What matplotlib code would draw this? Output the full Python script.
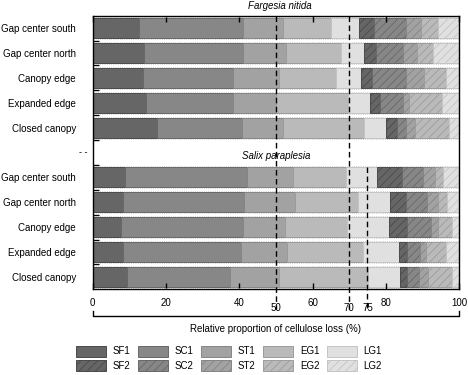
import numpy as np
import matplotlib
matplotlib.use('Agg')
import matplotlib.pyplot as plt
from matplotlib.patches import Patch

plt.rcParams['font.family'] = ['Liberation Sans', 'DejaVu Sans']
plt.rcParams['font.size'] = 7
plt.rcParams['hatch.linewidth'] = 0.6

# data (relative proportion of cellulose loss, %)
sites = ['Gap center south', 'Gap center north', 'Canopy edge', 'Expanded edge', 'Closed canopy']
fractions = ['SF1', 'SC1', 'ST1', 'EG1', 'LG1', 'SF2', 'SC2', 'ST2', 'EG2', 'LG2']
fargesia = [
    [12.7, 28.3, 10.9, 13.1, 7.8, 4.1, 8.5, 4.1, 4.8, 5.7],
    [14.1, 26.9, 11.8, 14.9, 6.4, 3.2, 7.5, 3.6, 4.4, 7.2],
    [13.6, 24.8, 12.4, 15.5, 6.8, 3.2, 9.1, 5.1, 5.9, 3.6],
    [14.5, 23.7, 11.8, 19.8, 5.9, 2.6, 6.5, 1.6, 9.0, 4.6],
    [17.6, 23.1, 11.3, 22.1, 6.0, 2.9, 2.4, 2.6, 9.2, 2.8],
]
salix = [
    [8.7, 33.3, 12.6, 14.6, 8.5, 6.7, 5.7, 3.3, 2.1, 4.5],
    [8.4, 33.0, 13.8, 17.1, 8.9, 4.2, 5.8, 3.1, 2.3, 3.4],
    [7.7, 33.4, 11.3, 16.9, 11.7, 4.7, 6.6, 1.9, 3.8, 2.0],
    [8.4, 32.0, 12.7, 20.6, 9.9, 2.3, 3.5, 1.5, 5.5, 3.6],
    [9.5, 28.0, 13.4, 24.2, 8.8, 1.8, 3.4, 2.3, 6.6, 2.0],
]
ref_lines_top = [50, 70]
ref_lines_bottom = [50, 70, 75]

fills = ['#666666', '#878787', '#a2a2a2', '#bababa', '#e0e0e0']
edges = ['#4a4a4a', '#686868', '#858585', '#9c9c9c', '#c4c4c4']

fig = plt.figure(figsize=(4.68, 3.75), dpi=100)
ax = fig.add_axes([0.198, 0.2285, 0.783, 0.7296])

for data, y0 in [(fargesia, 0), (salix, 6)]:
    for i, vals in enumerate(data):
        left = 0
        for j, v in enumerate(vals):
            ax.barh(y0 + i, v, left=left, height=0.8, color=fills[j % 5],
                    edgecolor=edges[j % 5], linewidth=0.7,
                    hatch='////' if j >= 5 else None)
            left += v
        # faint dotted outlines between bars
        for yy in (y0 + i - 0.44, y0 + i + 0.44):
            ax.plot([0, 100], [yy, yy], color='#c0c0c0', lw=0.6, ls=':')

ax.set_xlim(0, 100)
ax.set_ylim(10.5, -0.5)

# y ticks at row boundaries, labels at row centres
ax.set_yticks(np.arange(0.5, 10, 1))
ax.set_yticklabels([])
label_rows = [0, 1, 2, 3, 4, 6, 7, 8, 9, 10]
ax.set_yticks(label_rows, minor=True)
ax.set_yticklabels(sites + sites, minor=True)
ax.tick_params(axis='y', which='minor', length=0, pad=12)
ax.tick_params(axis='y', which='major', direction='in', length=4, width=1)
ax.set_xticks([0, 20, 40, 60, 80, 100])
ax.tick_params(axis='x', direction='in', top=True, length=4, width=1, pad=6)
for s in ax.spines.values():
    s.set_linewidth(1)

# dashed reference lines
for v in ref_lines_top:
    ax.plot([v, v], [-0.5, 11.3], color='k', lw=1, dashes=(4, 2.5), clip_on=False)
for v in ref_lines_bottom:
    if v not in ref_lines_top:
        ax.plot([v, v], [5.6, 11.3], color='k', lw=1, dashes=(4, 2.5), clip_on=False)

trans = ax.get_xaxis_transform()
for v in ref_lines_bottom:
    ax.text(v, -0.068, str(v), transform=trans, ha='center', va='center')
ax.plot([0, 0, 100, 100], [-0.081, -0.0976, -0.0976, -0.081], transform=trans,
        color='k', lw=1, clip_on=False)
ax.text(50, -0.145, 'Relative proportion of cellulose loss (%)', transform=trans,
        ha='center', va='center')

ax.text(51, 1.035, 'Fargesia nitida', transform=trans, ha='center', va='center',
        style='italic')
ax.text(50, 5.14, 'Salix paraplesia', ha='center', va='center', style='italic')
ax.text(-0.015, 5, '- -', transform=ax.get_yaxis_transform(), ha='right', va='center',
        fontsize=6.5)

handles = []
for k in range(5):
    handles.append(Patch(facecolor=fills[k], edgecolor=edges[k], lw=0.7, label=fractions[k]))
    handles.append(Patch(facecolor=fills[k], edgecolor=edges[k], lw=0.7, hatch='////',
                         label=fractions[k + 5]))
fig.legend(handles=handles, ncol=5, loc='center', bbox_to_anchor=(229 / 468, 1 - 358.5 / 375),
           frameon=False, handlelength=3.1, handleheight=1.4, handletextpad=0.7,
           columnspacing=0.75, labelspacing=0.35)

fig.savefig('out.png', dpi=100)
